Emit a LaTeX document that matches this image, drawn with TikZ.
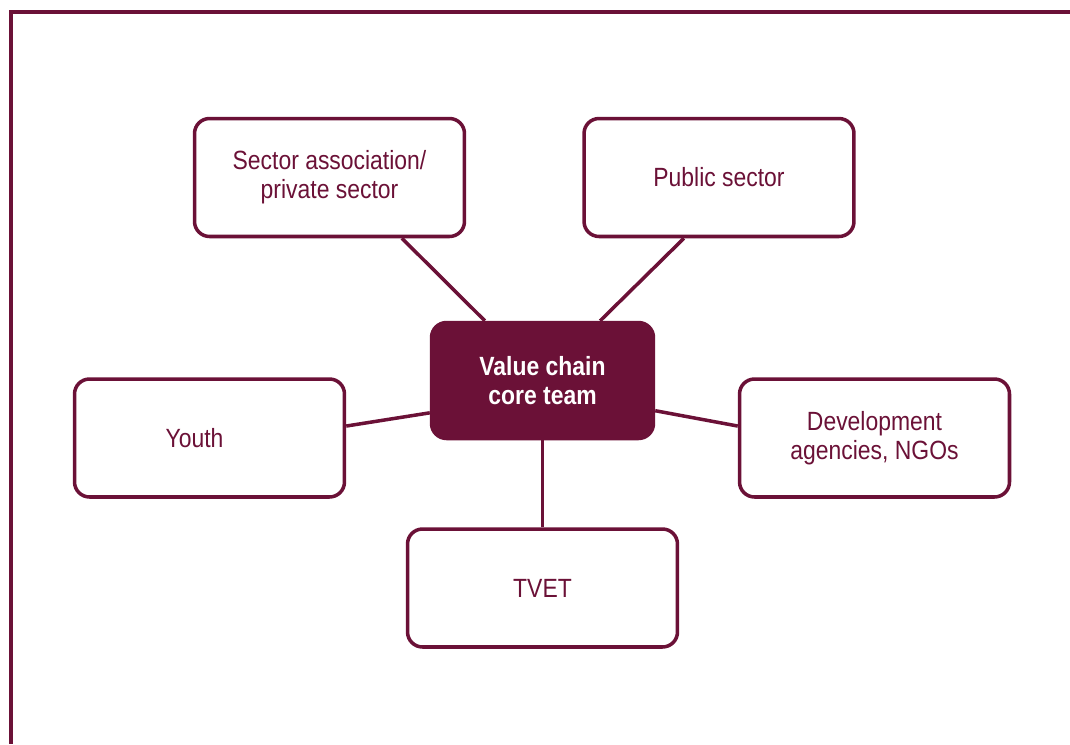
\documentclass[tikz,border=0pt]{standalone}
\usepackage{fontspec}
\setmainfont[FakeStretch=0.87]{Liberation Sans}
\definecolor{wine}{RGB}{107,17,55}

\begin{document}
\begin{tikzpicture}[x=0.02cm, y=-0.02cm, line width=2pt,
        party/.style={draw=wine, fill=white, rounded corners=0.3cm, inner sep=0pt,
            minimum width=5.4cm, minimum height=2.36cm, align=center, text=wine,
            font=\fontsize{15}{16.7}\selectfont},
        core/.style={draw=wine, fill=wine, rounded corners=0.3cm, inner sep=0pt,
            minimum width=4.44cm, minimum height=2.32cm, align=center, text=white,
            font=\fontsize{15}{16.7}\selectfont\bfseries},
        link/.style={draw=wine}]
        \useasboundingbox (0,0) rectangle (1070,744);

        % Frame (top and left only)
        \draw[wine] (1070,12) -- (11,12) -- (11,744);

        % Centre: core team
        \node[core] (team) at (542.5,380.5) {Value chain\\core team};

        % Upper row
        \node[party] (sector) at (329.5,177.5) {Sector association/\\private sector};
        \node[party] (public) at (719,177.5) {Public sector};

        % Middle row
        \node[party] (youth) at (209.5,438) {\hspace*{-0.6cm}Youth};
        \node[party] (dev) at (874.5,438) {Development\\agencies, NGOs};

        % Bottom
        \node[party] (tvet) at (542.5,588) {TVET};

        % Links to the core team
        \draw[link] (sector.-40.6) -- (team.134.5);
        \draw[link] (public.-120) -- (team.46);
        \draw[link] (youth.5) -- (team.-164.4);
        \draw[link] (dev.175) -- (team.-15.6);
        \draw[link] (tvet.north) -- (team.south);

    \end{tikzpicture}
\end{document}
